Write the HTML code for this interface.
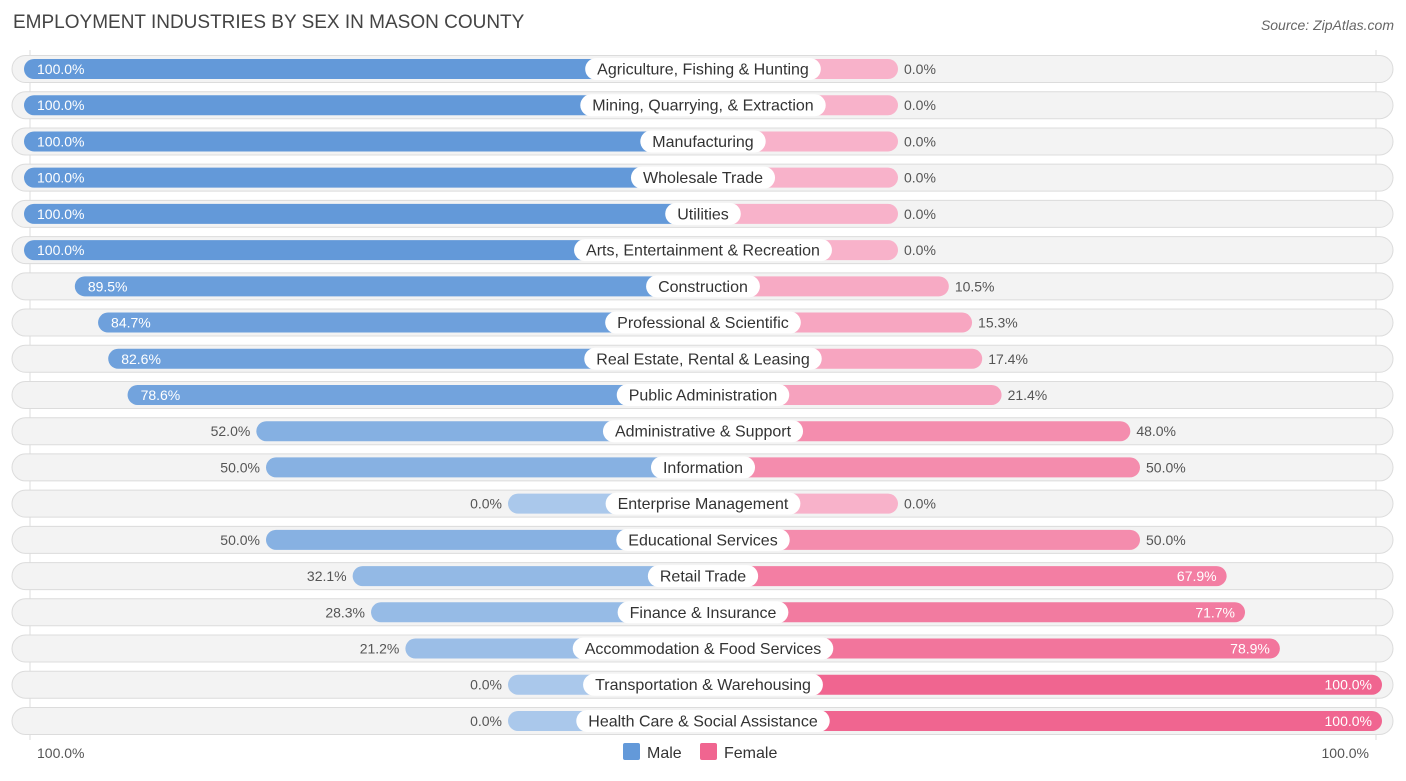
<!DOCTYPE html>
<html><head><meta charset="utf-8"><style>
body{margin:0;background:#fff;font-family:"Liberation Sans",sans-serif;}
svg text{font-family:"Liberation Sans",sans-serif;}
</style></head><body>
<svg id="chart" width="1406" height="776" xmlns="http://www.w3.org/2000/svg">
<text x="13" y="28" font-size="19" fill="#444">EMPLOYMENT INDUSTRIES BY SEX IN MASON COUNTY</text>
<text x="1394" y="30" font-size="14" fill="#666" font-style="italic" text-anchor="end">Source: ZipAtlas.com</text>
<line x1="30" y1="50" x2="30" y2="740" stroke="#ddd" stroke-width="1"/>
<line x1="1376" y1="50" x2="1376" y2="740" stroke="#ddd" stroke-width="1"/>
<g id="rows"></g>
<text x="37" y="758" font-size="14" fill="#555">100.0%</text>
<text x="1369" y="758" font-size="14" fill="#555" text-anchor="end">100.0%</text>
<g>
<rect x="623" y="743" width="17" height="17" rx="2" fill="#6399d9"/>
<text x="647" y="758" font-size="16" fill="#333">Male</text>
<rect x="700" y="743" width="17" height="17" rx="2" fill="#f06590"/>
<text x="724" y="758" font-size="16" fill="#333">Female</text>
</g>
</svg>
<script>
const categories=["Agriculture, Fishing & Hunting","Mining, Quarrying, & Extraction","Manufacturing","Wholesale Trade","Utilities","Arts, Entertainment & Recreation","Construction","Professional & Scientific","Real Estate, Rental & Leasing","Public Administration","Administrative & Support","Information","Enterprise Management","Educational Services","Retail Trade","Finance & Insurance","Accommodation & Food Services","Transportation & Warehousing","Health Care & Social Assistance"];
const maleValues=[100,100,100,100,100,100,89.5,84.7,82.6,78.6,52.0,50.0,0,50.0,32.1,28.3,21.2,0,0];
const femaleValues=[0,0,0,0,0,0,10.5,15.3,17.4,21.4,48.0,50.0,0,50.0,67.9,71.7,78.9,100,100];
const CX=703,STUB=195,SCALE=4.84,Y0=69,STEP=36.22;
function barLen(v){return STUB+v*SCALE;}
function rowY(i){return Y0+i*STEP;}
function mix(a,b,t){return 'rgb('+a.map((x,k)=>Math.round(x+(b[k]-x)*t)).join(',')+')';}
const mLo=[170,200,235],mHi=[99,153,217],fLo=[248,178,202],fHi=[240,101,144];
const NS="http://www.w3.org/2000/svg";
const g=document.getElementById('rows');
function mk(tag,attrs,parent){const e=document.createElementNS(NS,tag);for(const k in attrs)e.setAttribute(k,attrs[k]);parent.appendChild(e);return e;}
categories.forEach((cat,i)=>{
  const y=rowY(i);
  const row=mk('g',{},g);
  
  
  const bg=mk('rect',{x:12,y:y-13.5,width:1381,height:27,rx:13.5,fill:'#f3f3f3',stroke:'#dcdcdc','stroke-width':1},row);
  
  
  const mv=maleValues[i],fv=femaleValues[i];
  const ml=barLen(mv),fl=barLen(fv);
  const mb=mk('rect',{x:CX-ml,y:y-10,width:ml,height:20,rx:10,fill:mix(mLo,mHi,mv/100)},row);
  
  
  const fb=mk('rect',{x:CX,y:y-10,width:fl,height:20,rx:10,fill:mix(fLo,fHi,fv/100)},row);
  
  
  // category label
  const lbl=mk('text',{x:CX,y:y+5.5,'font-size':16,fill:'#333','text-anchor':'middle'},row);
  lbl.textContent=cat;
  
  
  const w=lbl.getComputedTextLength()+24;
  const pill=mk('rect',{x:CX-w/2,y:y-11,width:w,height:22,rx:11,fill:'#fff'},row);
  
  
  row.appendChild(lbl);
  // values
  const mt=mk('text',{y:y+5,'font-size':14},row);
  mt.textContent=mv.toFixed(1)+'%';
  
  
  if(mv>60){mt.setAttribute('x',CX-ml+13);mt.setAttribute('fill','#fff');}
  else{mt.setAttribute('x',CX-ml-6);mt.setAttribute('text-anchor','end');mt.setAttribute('fill','#555');}
  const ft=mk('text',{y:y+5,'font-size':14},row);
  ft.textContent=fv.toFixed(1)+'%';
  
  
  if(fv>60){ft.setAttribute('x',CX+fl-10);ft.setAttribute('text-anchor','end');ft.setAttribute('fill','#fff');}
  else{ft.setAttribute('x',CX+fl+6);ft.setAttribute('fill','#555');}
});
</script>
</body></html>
